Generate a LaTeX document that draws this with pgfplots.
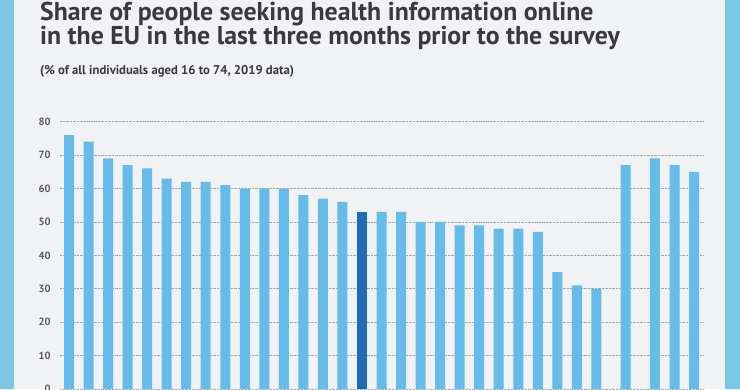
\documentclass[border=0pt]{standalone}
\usepackage{fontspec}
\setmainfont{PT Sans}
\usepackage{pgfplots}
\pgfplotsset{compat=1.18}
\definecolor{panel}{HTML}{F1F2F4}
\definecolor{frame}{HTML}{7BC8E6}
\definecolor{barlight}{HTML}{65BBEA}
\definecolor{bardark}{HTML}{1F6DB6}
\definecolor{titlegray}{HTML}{3A3A3C}
\definecolor{tickgray}{HTML}{5A5A5C}
\begin{document}
\begin{tikzpicture}[x=1pt,y=1pt]
\path[use as bounding box] (0,0) rectangle (740,389);
\clip (0,0) rectangle (740,389);
\fill[panel] (0,0) rectangle (740,389);
\fill[frame] (0,0) rectangle (14,389);
\fill[frame] (725,0) rectangle (740,389);
\node[anchor=base west, inner sep=0pt, text=titlegray, font=\bfseries\fontsize{25.8}{26}\selectfont] at (40,368) {Share of people seeking health information online};
\node[anchor=base west, inner sep=0pt, text=titlegray, font=\bfseries\fontsize{25.8}{26}\selectfont] at (40,344) {in the EU in the last three months prior to the survey};
\node[anchor=base west, inner sep=0pt, text=titlegray, font=\bfseries\fontsize{12.7}{13}\selectfont] at (40,314) {(\% of all individuals aged 16 to 74, 2019 data)};
\begin{axis}[
  at={(60pt,0pt)}, anchor=south west,
  scale only axis, width=644pt, height=267.3pt,
  xmin=-0.461, xmax=32.51, ymin=0, ymax=80,
  ytick={0,10,...,80}, xtick=\empty,
  axis line style={draw=none},
  ymajorgrids, major grid style={densely dotted, black!35, line width=0.6pt},
  major tick length=0pt,
  /pgf/number format/assume math mode=true,
  yticklabel style={font=\bfseries\fontsize{10.5}{12}\selectfont, text=tickgray, anchor=east, xshift=-6pt},
  clip=false,
]
\addplot[ybar, bar width=10pt, fill=barlight, draw=none] coordinates {
(0,76) (1,74) (2,69) (3,67) (4,66) (5,63) (6,62) (7,62) (8,61) (9,60)
(10,60) (11,60) (12,58) (13,57) (14,56) (16,53) (17,53) (18,50) (19,50)
(20,49) (21,49) (22,48) (23,48) (24,47) (25,35) (26,31) (27,30)
(28.5,67) (30,69) (31,67) (32,65)
};
\addplot[ybar, bar width=10pt, fill=bardark, draw=none] coordinates {(15,53)};
\end{axis}
\end{tikzpicture}
\end{document}
